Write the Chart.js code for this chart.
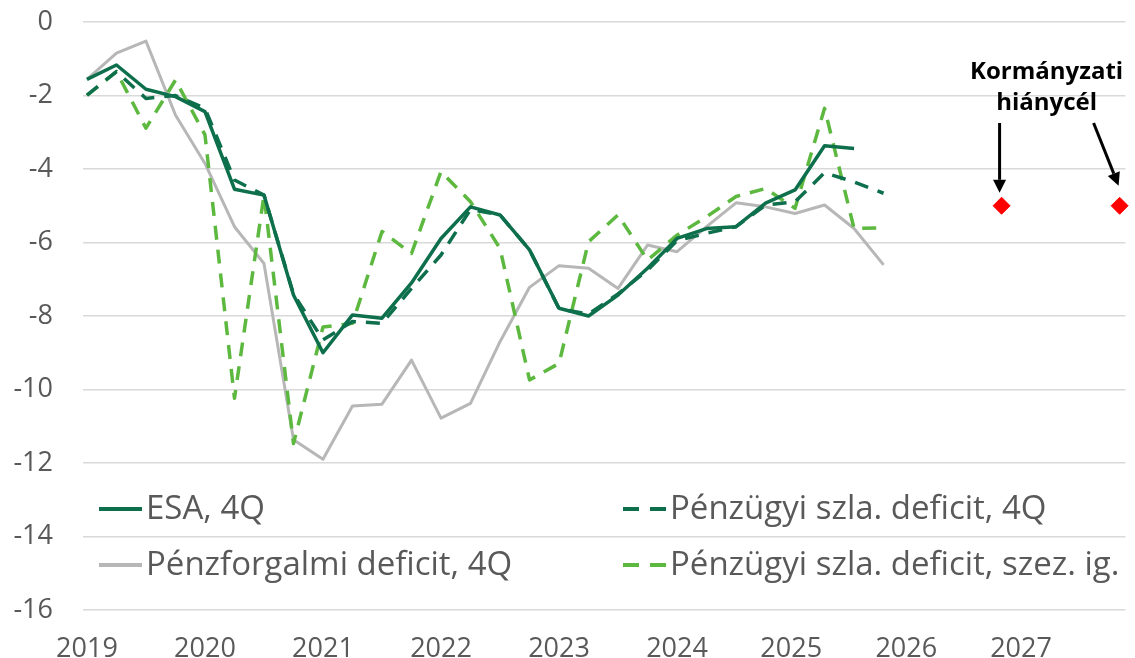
<!DOCTYPE html>
<html><head><meta charset="utf-8">
<script src="https://cdn.jsdelivr.net/npm/chart.js@4.4.0/dist/chart.umd.min.js"></script>
<style>html,body{margin:0;padding:0;background:#fff;}#wrap{width:1135px;height:658px;}</style>
</head><body><div id="wrap"><canvas id="c" width="1135" height="658"></canvas></div>
<script>
// ---- data ----
const years = ['2019','2020','2021','2022','2023','2024','2025','2026','2027'];
const quarters = years.flatMap(y => ['Q1','Q2','Q3','Q4'].map(q => y + q));
const esa4q = [-1.56,-1.17,-1.83,-2.03,-2.44,-4.55,-4.71,-7.43,-9.0,-7.97,-8.06,-7.1,-5.89,-5.03,-5.25,-6.2,-7.79,-8.0,-7.43,-6.7,-5.89,-5.62,-5.57,-4.93,-4.57,-3.37,-3.44];
const penzugyi4q = [-1.99,-1.35,-2.08,-2.0,-2.35,-4.3,-4.71,-7.4,-8.65,-8.15,-8.2,-7.25,-6.34,-5.1,-5.25,-6.2,-7.8,-7.95,-7.4,-6.75,-5.95,-5.75,-5.57,-4.98,-4.89,-4.1,-4.35,-4.66];
const penzforgalmi4q = [-1.56,-0.85,-0.52,-2.53,-3.85,-5.57,-6.57,-11.37,-11.9,-10.45,-10.4,-9.2,-10.78,-10.38,-8.7,-7.22,-6.63,-6.7,-7.25,-6.07,-6.25,-5.57,-4.92,-5.03,-5.21,-4.98,-5.62,-6.61];
const penzugyiSzez = [-2.0,-1.35,-2.89,-1.58,-3.07,-10.24,-4.71,-11.47,-8.3,-8.2,-5.7,-6.3,-4.07,-4.89,-6.16,-9.74,-9.29,-5.98,-5.25,-6.48,-5.8,-5.3,-4.75,-4.53,-5.07,-2.35,-5.62,-5.6];
const targetQuarters = ['2026Q4','2027Q4'];
const targetValues = [-5,-5];
const seriesLabels = ['ESA, 4Q','Pénzügyi szla. deficit, 4Q','Pénzforgalmi deficit, 4Q','Pénzügyi szla. deficit, szez. ig.'];
const annotationLines = ['Kormányzati','hiánycél'];
// where each year label sits on the quarter axis (as in the original layout)
const yearLabelAt = [0, 4, 8, 12, 16, 20, 23.87, 27.77, 31.66];

// ---- styles ----
const DARK = '#0E6F4C', LIGHT = '#5DB83F', GRAY = '#B7B7B7', TXT = '#595959';
const FONT = "'Open Sans', sans-serif";
const toXY = arr => arr.map((v,i) => ({x:i, y:v}));

const datasets = [
  {label: seriesLabels[0], data: toXY(esa4q), borderColor: DARK, borderWidth: 3.5, order: 2},
  {label: seriesLabels[1], data: toXY(penzugyi4q), borderColor: DARK, borderWidth: 3.5, borderDash:[14,10], order: 1},
  {label: seriesLabels[2], data: toXY(penzforgalmi4q), borderColor: GRAY, borderWidth: 3, order: 4},
  {label: seriesLabels[3], data: toXY(penzugyiSzez), borderColor: LIGHT, borderWidth: 3.5, borderDash:[14,10], order: 3},
  {label: 'target', data: targetQuarters.map((q,i)=>({x: quarters.indexOf(q), y: targetValues[i]})),
   showLine:false, pointStyle:'rectRot', pointRadius:8.5, pointBackgroundColor:'#FF0000', pointBorderColor:'#FF0000', pointBorderWidth:1, order:0, clip:false}
];
datasets.forEach((d,i)=>{ if(i<4){ d.pointRadius=0; d.fill=false; d.tension=0; d.borderCapStyle='butt'; d.borderJoinStyle='round'; }});

const legendPlugin = {
  id:'customLegend',
  afterDraw(chart){
    const ctx = chart.ctx;
    const ds = chart.data.datasets;
    const slots = [
      {i:0, x:99, y:509}, {i:1, x:623, y:509},
      {i:2, x:99, y:565}, {i:3, x:623, y:565}
    ];
    ctx.save();
    slots.forEach(s=>{
      const d = ds[s.i];
      ctx.beginPath();
      ctx.strokeStyle = d.borderColor; ctx.lineWidth = 4; ctx.lineCap='butt';
      ctx.setLineDash(d.borderDash ? [16,11] : []);
      ctx.moveTo(s.x, s.y); ctx.lineTo(s.x+43, s.y); ctx.stroke();
      ctx.setLineDash([]);
      ctx.fillStyle = TXT; ctx.font = "33px " + FONT; ctx.textBaseline='middle'; ctx.textAlign='left';
      ctx.fillText(d.label, s.x+47, s.y+1);
    });
    ctx.restore();
  }
};

function arrow(ctx, x1,y1,x2,y2){
  const a = Math.atan2(y2-y1, x2-x1), L=13, W=6.5;
  const bx = x2 - L*Math.cos(a), by = y2 - L*Math.sin(a);
  ctx.beginPath(); ctx.moveTo(x1,y1); ctx.lineTo(bx,by); ctx.stroke();
  ctx.beginPath(); ctx.moveTo(x2,y2);
  ctx.lineTo(bx + W*Math.sin(a), by - W*Math.cos(a));
  ctx.lineTo(bx - W*Math.sin(a), by + W*Math.cos(a));
  ctx.closePath(); ctx.fill();
}

const annotPlugin = {
  id:'annot',
  afterDraw(chart){
    const ctx = chart.ctx, xs = chart.scales.x, ys = chart.scales.y;
    const p1x = xs.getPixelForValue(quarters.indexOf(targetQuarters[0]));
    const p2x = xs.getPixelForValue(quarters.indexOf(targetQuarters[1]));
    const py = ys.getPixelForValue(targetValues[0]);
    const cx = (p1x + p2x)/2 - 14;
    ctx.save();
    ctx.fillStyle='#000'; ctx.strokeStyle='#000'; ctx.lineWidth=3;
    ctx.font = "bold 24px " + FONT; ctx.textAlign='center'; ctx.textBaseline='middle';
    ctx.fillText(annotationLines[0], cx, 72);
    ctx.fillText(annotationLines[1], cx, 103);
    arrow(ctx, p1x-2, 123, p1x-2, py-13);
    arrow(ctx, cx+47, 123, p2x-1, py-20);
    ctx.restore();
  }
};

new Chart(document.getElementById('c'), {
  type:'line',
  data:{datasets},
  options:{
    responsive:false, animation:false, devicePixelRatio:1,
    layout:{padding:{top:22,right:0,left:0,bottom:0}},
    plugins:{legend:{display:false}, tooltip:{enabled:false}},
    scales:{
      x:{type:'linear', min:-0.134, max:35.2,
        grid:{display:false}, border:{display:false},
        afterBuildTicks(s){ s.ticks = yearLabelAt.map(v=>({value:v})); },
        afterFit(s){ s.height = 48; s.paddingLeft = 0; s.paddingRight = 0; },
        ticks:{font:{family:FONT,size:27}, color:TXT, padding:15, maxRotation:0, autoSkip:false,
          callback:(v, i)=> years[i]}
      },
      y:{min:-16, max:0,
        grid:{color:'#D9D9D9', lineWidth:1.5, drawTicks:false}, border:{display:false},
        afterFit(s){ s.width = 83; s.paddingTop = 0; s.paddingBottom = 0; },
        ticks:{stepSize:2, font:{family:FONT,size:27}, color:TXT, padding:30}
      }
    }
  },
  plugins:[legendPlugin, annotPlugin]
});
</script></body></html>
